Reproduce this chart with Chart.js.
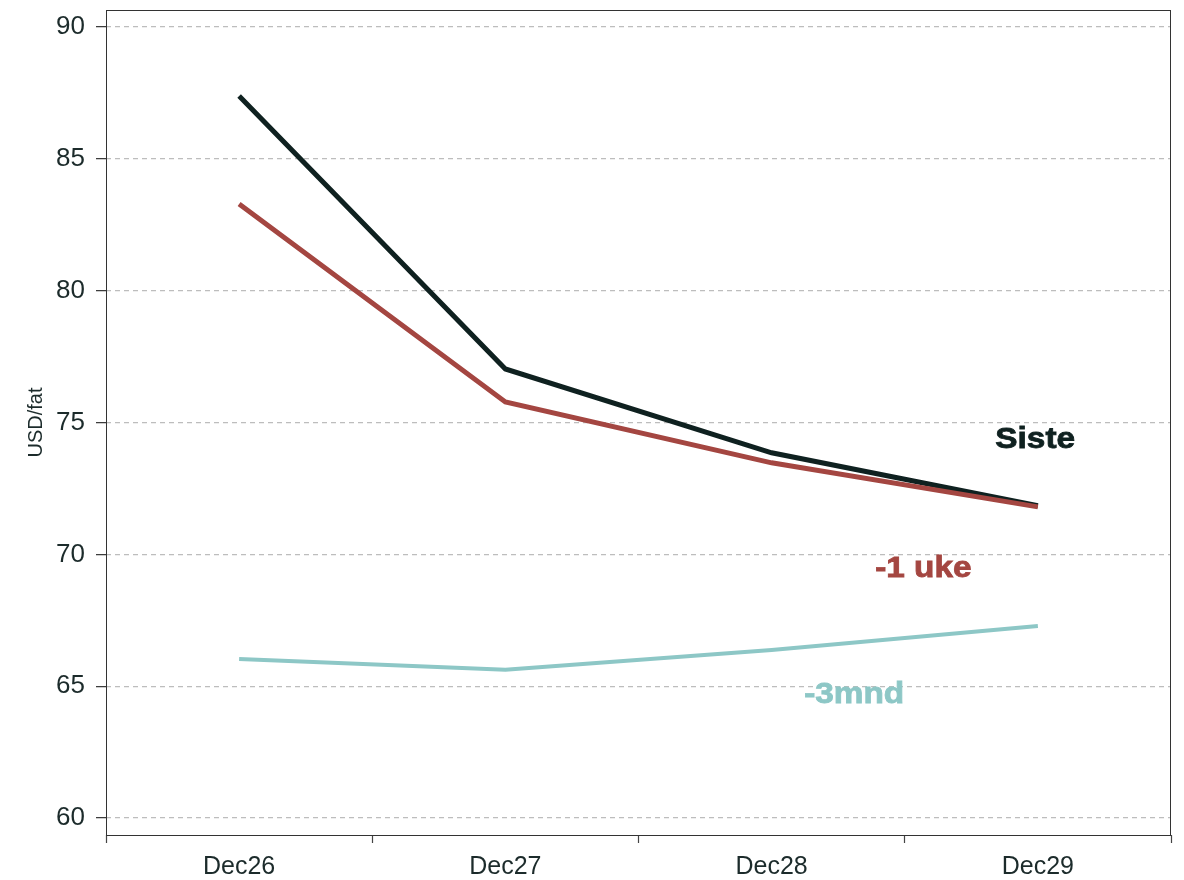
<!DOCTYPE html>
<html>
<head>
<meta charset="utf-8">
<script src="https://cdn.jsdelivr.net/npm/chart.js@4.4.1/dist/chart.umd.min.js"></script>
<style>
  html, body { margin: 0; padding: 0; background: #fff; }
  #wrap { width: 1184px; height: 880px; position: relative; }
</style>
</head>
<body>
<div id="wrap"><canvas id="price-chart"></canvas></div>
<script>
// Chart data
const categories = ['Dec26', 'Dec27', 'Dec28', 'Dec29'];
const sisteValues = [87.38, 77.03, 73.85, 71.84];
const ukeValues = [83.29, 75.78, 73.47, 71.80];
const mndValues = [66.03, 65.62, 66.37, 67.28];
const yTickValues = [60, 65, 70, 75, 80, 85, 90];

// Series names and label anchor points (category index, value)
const seriesNames = ['Siste', '-1 uke', '-3mnd'];
const seriesColors = ['#0f2120', '#a44641', '#8dc7c6'];
const labelAnchors = [[2.99, 74.35], [2.57, 69.45], [2.31, 64.65]];

const FONT = '"Liberation Sans", Arial, sans-serif';
const ctx = document.getElementById('price-chart').getContext('2d');

// Frame around plot area
const framePlugin = {
  id: 'frame',
  afterDraw(chart) {
    const { ctx, chartArea: a } = chart;
    ctx.save();
    ctx.strokeStyle = '#333';
    ctx.lineWidth = 1;
    ctx.strokeRect(a.left + 0.5, a.top + 0.5, a.right - a.left - 1, a.bottom - a.top);
    ctx.restore();
  }
};

// Series labels written in the plot
const seriesLabelPlugin = {
  id: 'seriesLabels',
  afterDatasetsDraw(chart) {
    const { ctx, scales } = chart;
    ctx.save();
    ctx.font = 'bold 29px ' + FONT;
    ctx.textAlign = 'center';
    ctx.textBaseline = 'middle';
    ctx.lineWidth = 0.8;
    seriesNames.forEach((name, i) => {
      const x = scales.x.getPixelForValue(labelAnchors[i][0]);
      const y = scales.y.getPixelForValue(labelAnchors[i][1]);
      ctx.fillStyle = seriesColors[i];
      ctx.strokeStyle = seriesColors[i];
      ctx.save();
      ctx.translate(x, y);
      ctx.scale(1.15, 1);
      ctx.fillText(name, 0, 0);
      ctx.strokeText(name, 0, 0);
      ctx.restore();
    });
    ctx.restore();
  }
};

const chart = new Chart(ctx, {
  type: 'line',
  data: {
    labels: categories,
    datasets: [
      { label: seriesNames[0], data: sisteValues, borderColor: seriesColors[0], borderWidth: 5, order: 2 },
      { label: seriesNames[1], data: ukeValues, borderColor: seriesColors[1], borderWidth: 5, order: 1 },
      { label: seriesNames[2], data: mndValues, borderColor: seriesColors[2], borderWidth: 4, order: 3 }
    ]
  },
  options: {
    responsive: true,
    maintainAspectRatio: false,
    animation: false,
    elements: {
      point: { radius: 0, hoverRadius: 0 },
      line: { tension: 0, fill: false }
    },
    layout: { padding: { top: 10, right: 13, left: 0, bottom: 0 } },
    plugins: {
      legend: { display: false },
      tooltip: { enabled: false }
    },
    scales: {
      x: {
        offset: true,
        grid: {
          offset: true,
          drawOnChartArea: false,
          drawTicks: true,
          tickLength: 8,
          tickColor: '#444',
          tickWidth: 1.2
        },
        border: { display: false },
        ticks: {
          color: '#1c2b2b',
          font: { family: FONT, size: 25 },
          padding: 9,
          maxRotation: 0
        },
        afterFit(scale) {
          scale.height = 45;
          scale.paddingLeft = 0;
          scale.paddingRight = 0;
        }
      },
      y: {
        min: 59.355,
        max: 90.645,
        afterBuildTicks(scale) {
          scale.ticks = yTickValues.map(v => ({ value: v }));
        },
        grid: {
          color: '#bdbdbd',
          lineWidth: 1.3,
          tickLength: 10,
          tickColor: '#333',
          tickWidth: 1.2,
          tickBorderDash: []
        },
        border: { display: false, dash: [5, 4] },
        ticks: {
          color: '#1c2b2b',
          font: { family: FONT, size: 26 },
          padding: 11
        },
        title: {
          display: true,
          text: 'USD/fat',
          color: '#1c2b2b',
          font: { family: FONT, size: 20 },
          padding: { top: 24, bottom: 0 }
        },
        afterFit(scale) {
          scale.width = 106;
          scale.paddingTop = 0;
          scale.paddingBottom = 0;
        }
      }
    }
  },
  plugins: [framePlugin, seriesLabelPlugin]
});
</script>
</body>
</html>
